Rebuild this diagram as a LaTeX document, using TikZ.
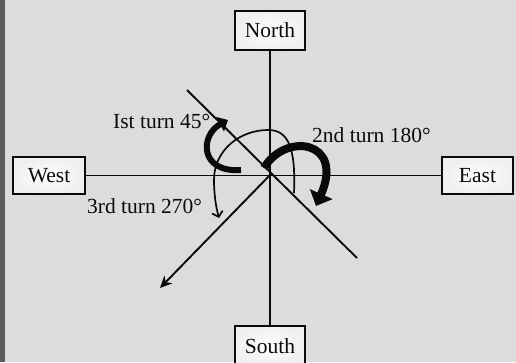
\documentclass[tikz,border=0pt]{standalone}
\usepackage{fontspec}
\setmainfont{Liberation Serif}
\usetikzlibrary{arrows.meta}
\definecolor{bg}{HTML}{DCDCDC}
\definecolor{strip}{HTML}{5A5A5A}
\definecolor{ink}{HTML}{0A0A0A}
\tikzset{
  dirbox/.style={draw=ink, line width=2pt, inner color=white!97!bg, outer color=white!55!bg,
     minimum height=37pt, inner sep=0pt, font=\fontsize{21.5}{25}\selectfont, text=ink},
  axis/.style={draw=ink, line width=1.9pt},
  lbl/.style={font=\fontsize{21.5}{25}\selectfont, text=ink, inner sep=0pt},
}
\begin{document}
\begin{tikzpicture}[x=1pt,y=-1pt]
\useasboundingbox (0,0) rectangle (516,362);
\fill[bg] (0,0) rectangle (516,362);
\fill[strip] (0,0) rectangle (5,362);
% boxes
\node[dirbox, minimum width=70pt, minimum height=39pt] (N) at (270,30.5) {North};
\node[dirbox, minimum width=72pt] (W) at (49,175.5) {West};
\node[dirbox, minimum width=71pt] (E) at (477.5,175.5) {East};
\node[dirbox, minimum width=70pt, minimum height=40pt] (S) at (270,346) {South};
\coordinate (O) at (270,175);
% axes
\draw[axis] (N.south) -- (S.north);
\draw[axis] (W.east) -- (E.west);
\coordinate (D1) at (187,90);
\coordinate (D2) at (357,258);
\coordinate (SW) at (160,288);
\draw[axis] (D1) -- (D2);
\draw[axis, -{Stealth[length=12pt,width=11pt]}] (O) -- (SW);
% thin arc (3rd turn)
\draw[ink, line width=1.7pt, -{Straight Barb[length=5pt,width=11pt]}]
  (294,193) .. controls (296,145) and (287,130) .. (268,130)
  .. controls (240,130) and (214,150) .. (214,180)
  .. controls (214,195) and (216,207) .. (219,218);
% thick arrow 1
\draw[ink, line width=6pt, -{Triangle[length=9pt,width=16pt]}]
  (241,170) .. controls (199,173) and (200,135) .. (228,120);
% thick arrow 2
\draw[ink, line width=8pt, -{Triangle[length=13pt,width=24pt]}]
  (264,168) .. controls (285,132) and (345,140) .. (316,206);
% labels
\node[lbl, anchor=base west] (L1) at (113,128) {Ist turn 45°};
\node[lbl, anchor=base west] (L2) at (312,142) {2nd turn 180°};
\node[lbl, anchor=base west] (L3) at (87,213) {3rd turn 270°};
\end{tikzpicture}
\end{document}
